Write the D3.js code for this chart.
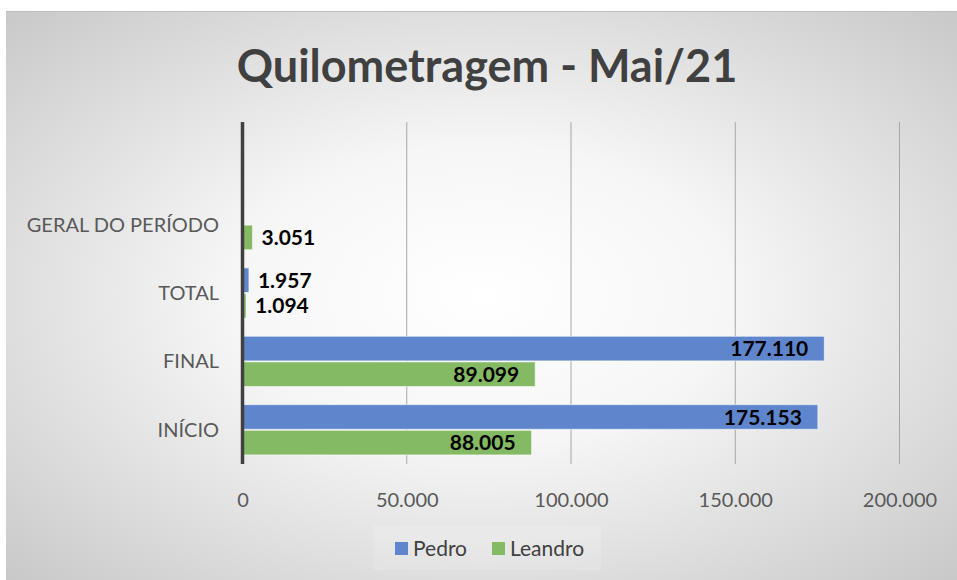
<!DOCTYPE html>
<html><head><meta charset="utf-8">
<script src="https://cdn.jsdelivr.net/npm/d3@7"></script>
<style>body{margin:0;background:#fff;}svg{display:block;}</style>
</head><body>
<svg id="chart" width="957" height="580"></svg>
<script>
const title = "Quilometragem - Mai/21";
const categories = ["INÍCIO", "FINAL", "TOTAL", "GERAL DO PERÍODO"];
const seriesNames = ["Pedro", "Leandro"];
const pedro = [175153, 177110, 1957, null];
const leandro = [88005, 89099, 1094, 3051];
const xTicks = [0, 50000, 100000, 150000, 200000];
const colors = ["#5f86cd", "#84ba64"];

const svg = d3.select("#chart");
const W = 957, H = 580;
const defs = svg.append("defs");
const grad = defs.append("radialGradient").attr("id","bg")
  .attr("cx","0.5").attr("cy","0.5").attr("r","0.75");
grad.append("stop").attr("offset","0").attr("stop-color","#ffffff");
grad.append("stop").attr("offset","0.35").attr("stop-color","#f6f6f6");
grad.append("stop").attr("offset","1").attr("stop-color","#c4c4c4");
svg.append("rect").attr("x",6).attr("y",11).attr("width",W-6).attr("height",H-11).attr("fill","url(#bg)");
svg.append("line").attr("x1",6).attr("x2",W).attr("y1",11.5).attr("y2",11.5).attr("stroke","#bdbdbd");

const fmt = v => d3.format(",")(v).replace(/,/g,".");

const x = d3.scaleLinear().domain([0,200000]).range([242.5, 899.5]);
// extra empty band on top, as in the reference
const y = d3.scaleBand().domain(categories.concat([""])).range([464, 122]).paddingInner(0.25).paddingOuter(0.125);
const y1 = d3.scaleBand().domain(seriesNames).range([0, y.bandwidth()]);

// title
svg.append("text").attr("x", 487).attr("y", 82).attr("text-anchor","middle")
  .attr("font-family","Lato, 'Open Sans', sans-serif").attr("font-weight","bold")
  .attr("font-size", 45).attr("fill","#404040").text(title);

// gridlines
const grid = svg.append("g");
grid.selectAll("line").data(xTicks.slice(1)).join("line")
  .attr("x1", d=>x(d)).attr("x2", d=>x(d)).attr("y1",122).attr("y2",464)
  .attr("stroke","#a6a6a6").attr("stroke-width",1);

// x axis labels
const xAxis = d3.axisBottom(x).tickValues(xTicks).tickFormat(fmt).tickSize(0).tickPadding(0);
const gx = svg.append("g").attr("transform","translate(0,507)").call(xAxis);
gx.select(".domain").remove();
gx.selectAll("text").attr("font-family","Lato, 'Open Sans', sans-serif").attr("font-size",20).attr("fill","#595959").attr("dy","0");

// y axis labels
const yAxis = d3.axisLeft(y).tickValues(categories).tickSize(0).tickPadding(0);
const gy = svg.append("g").attr("transform","translate(219,0)").call(yAxis);
gy.select(".domain").remove();
gy.selectAll("text").attr("font-family","Lato, 'Open Sans', sans-serif").attr("font-size",20).attr("fill","#595959").attr("dy","0.35em");

// bars
const rows = categories.map((c,i)=>({cat:c, vals:[{s:"Pedro",v:pedro[i]},{s:"Leandro",v:leandro[i]}]}));
const gBars = svg.append("g");
rows.forEach((r,i)=>{
  r.vals.forEach((d,j)=>{
    if(d.v==null) return;
    const by = y(r.cat)+y1(d.s);
    gBars.append("rect").attr("x", x(0)).attr("y", by+0.5).attr("width", x(d.v)-x(0)).attr("height", y1.bandwidth()-1)
      .attr("fill", colors[j]).attr("stroke","#ffffff").attr("stroke-opacity",0.6).attr("stroke-width",1);
    const inside = d.v > 50000;
    gBars.append("text")
      .attr("x", inside ? x(d.v)-16 : x(d.v)+9)
      .attr("y", by + y1.bandwidth()/2).attr("dy","0.36em")
      .attr("text-anchor", inside ? "end" : "start")
      .attr("font-family","Lato, 'Open Sans', sans-serif").attr("font-weight","bold").attr("font-size",21)
      .attr("fill","#000").text(fmt(d.v));
  });
});

// vertical axis line
svg.append("line").attr("x1",242.5).attr("x2",242.5).attr("y1",122).attr("y2",464)
  .attr("stroke","#404040").attr("stroke-width",3.5);

// legend
const lg = svg.append("g");
lg.append("rect").attr("x",373).attr("y",526).attr("width",228).attr("height",44).attr("fill","#ffffff").attr("opacity",0.15);
const items = [{n:"Pedro",x:395},{n:"Leandro",x:492}];
items.forEach((it,i)=>{
  lg.append("rect").attr("x",it.x).attr("y",542).attr("width",13).attr("height",13).attr("fill",colors[i]);
  lg.append("text").attr("x",it.x+18).attr("y",548.5).attr("dy","0.36em")
    .attr("font-family","Lato, 'Open Sans', sans-serif").attr("font-size",21).attr("fill","#404040").text(it.n);
});
</script>
</body></html>
